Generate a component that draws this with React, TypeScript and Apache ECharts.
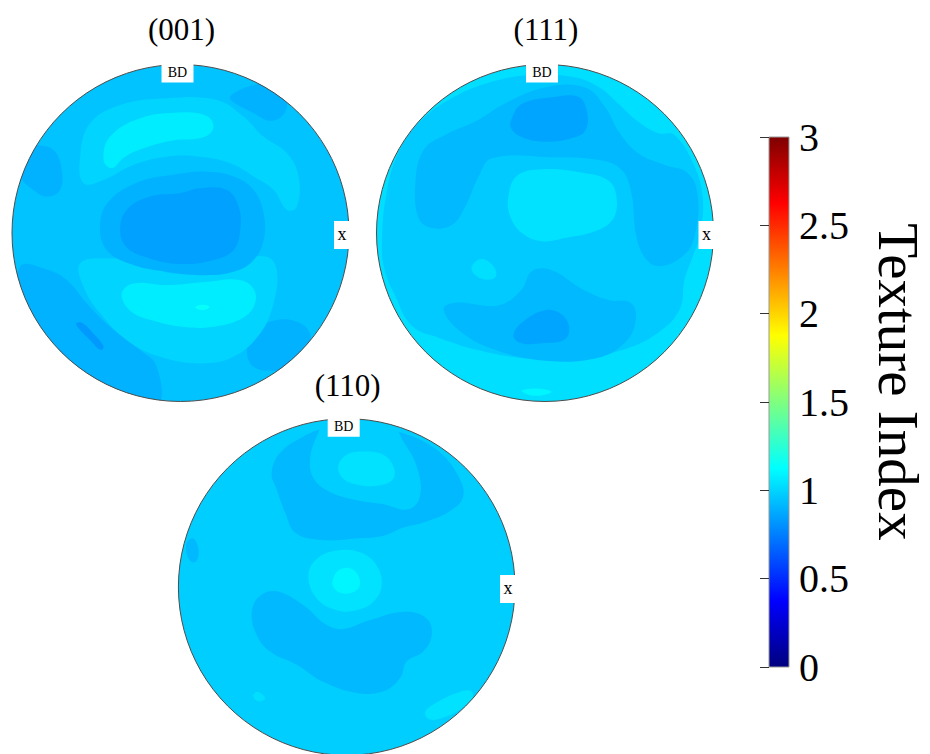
import React, { useEffect, useRef } from 'react';
import * as echarts from 'echarts';

type Pt = [number, number];
interface Contour {
  level: number;
  pts: Pt[];
}

const FONT = '"Liberation Serif", "Times New Roman", serif';

// jet colour map, 0 -> 3
const jetColors = ['#00007F', '#0000FF', '#007FFF', '#00FFFF', '#7FFF7F', '#FFFF00', '#FF7F00', '#FF0000', '#7F0000'];
const indexMin = 0;
const indexMax = 3;
const indexStep = 0.5;

const figureTitles = ['(001)', '(111)', '(110)'];
const baseLevels = [0.95, 1.03, 0.98];

// contour regions in pole-figure coordinates (unit circle, y up)
const pf001: Contour[] = [
  { level: 0.9, pts: [[-0.873, 0.533], [-0.754, 0.493], [-0.705, 0.374], [-0.715, 0.255], [-0.794, 0.216], [-0.873, 0.255], [-0.952, 0.335], [-0.992, 0.493], [-0.933, 0.592]] },
  { level: 0.9, pts: [[0.295, 0.81], [0.434, 0.711], [0.552, 0.667], [0.632, 0.75], [0.572, 0.889]] },
  { level: 0.9, pts: [[-0.952, -0.2], [-0.794, -0.216], [-0.675, -0.279], [-0.556, -0.418], [-0.418, -0.556], [-0.24, -0.695], [-0.141, -0.794], [-0.141, -1.012], [-0.576, -0.893], [-0.952, -0.497]] },
  { level: 0.83, pts: [[-0.62, -0.541], [-0.586, -0.533], [-0.517, -0.596], [-0.457, -0.671], [-0.473, -0.695], [-0.536, -0.636]] },
  { level: 0.9, pts: [[0.394, -0.695], [0.434, -0.576], [0.552, -0.521], [0.671, -0.521], [0.76, -0.58], [0.77, -0.695], [0.711, -0.794], [0.572, -0.818], [0.434, -0.794]] },
  { level: 1.0, pts: [[-0.596, 0.453], [-0.537, 0.651], [-0.358, 0.76], [-0.081, 0.8], [0.216, 0.79], [0.374, 0.691], [0.493, 0.572], [0.632, 0.473], [0.701, 0.335], [0.691, 0.156], [0.632, 0.137], [0.552, 0.255], [0.434, 0.335], [0.295, 0.414], [0.117, 0.453], [-0.081, 0.453], [-0.279, 0.404], [-0.457, 0.315], [-0.576, 0.295]] },
  { level: 1.0, pts: [[-0.596, -0.18], [-0.438, -0.15], [-0.24, -0.18], [-0.042, -0.24], [0.156, -0.22], [0.354, -0.16], [0.513, -0.141], [0.572, -0.22], [0.552, -0.418], [0.473, -0.596], [0.315, -0.735], [0.117, -0.774], [-0.121, -0.735], [-0.319, -0.636], [-0.477, -0.477], [-0.576, -0.319]] },
  { level: 0.9, pts: [[-0.477, 0.057], [-0.418, 0.196], [-0.24, 0.305], [-0.042, 0.345], [0.156, 0.364], [0.315, 0.335], [0.434, 0.255], [0.493, 0.117], [0.493, -0.042], [0.434, -0.16], [0.315, -0.23], [0.117, -0.25], [-0.081, -0.23], [-0.279, -0.19], [-0.438, -0.101]] },
  { level: 0.85, pts: [[-0.358, 0.018], [-0.319, 0.137], [-0.18, 0.216], [-0.002, 0.236], [0.117, 0.265], [0.275, 0.255], [0.345, 0.156], [0.354, 0.018], [0.315, -0.101], [0.196, -0.16], [-0.002, -0.184], [-0.2, -0.145], [-0.319, -0.085]] },
  { level: 1.07, pts: [[-0.457, 0.434], [-0.418, 0.572], [-0.24, 0.681], [-0.002, 0.715], [0.156, 0.695], [0.196, 0.628], [0.137, 0.568], [-0.042, 0.549], [-0.2, 0.509], [-0.329, 0.453], [-0.408, 0.384]] },
  { level: 1.07, pts: [[-0.349, -0.358], [-0.279, -0.299], [-0.081, -0.309], [0.156, -0.289], [0.354, -0.279], [0.438, -0.339], [0.434, -0.438], [0.354, -0.513], [0.196, -0.556], [0.038, -0.56], [-0.16, -0.521], [-0.299, -0.461]] },
  { level: 1.14, pts: [[0.087, -0.442], [0.127, -0.426], [0.172, -0.438], [0.137, -0.457]] },
];

const pf111: Contour[] = [
  { level: 0.97, pts: [[-0.966, -0.02], [-0.947, 0.197], [-0.888, 0.434], [-0.769, 0.631], [-0.572, 0.789], [-0.316, 0.897], [-0.079, 0.937], [0.158, 0.927], [0.316, 0.868], [0.434, 0.769], [0.552, 0.661], [0.671, 0.592], [0.769, 0.582], [0.888, 0.394], [0.937, 0.197], [0.917, -0.02], [0.878, -0.138], [0.828, -0.276], [0.799, -0.454], [0.671, -0.592], [0.473, -0.69], [0.217, -0.74], [-0.079, -0.746], [-0.375, -0.7], [-0.631, -0.621], [-0.789, -0.552], [-0.888, -0.375], [-0.957, -0.197]] },
  { level: 0.92, pts: [[-0.769, 0.296], [-0.72, 0.493], [-0.592, 0.582], [-0.414, 0.661], [-0.237, 0.769], [0.0, 0.864], [0.237, 0.864], [0.355, 0.75], [0.444, 0.592], [0.552, 0.473], [0.71, 0.404], [0.848, 0.355], [0.907, 0.217], [0.888, -0.02], [0.828, -0.128], [0.69, -0.197], [0.602, -0.158], [0.542, -0.02], [0.513, 0.237], [0.454, 0.375], [0.316, 0.434], [0.039, 0.45], [-0.316, 0.444], [-0.394, 0.335], [-0.473, 0.158], [-0.552, 0.049], [-0.671, 0.03], [-0.75, 0.089]] },
  { level: 0.92, pts: [[-0.602, -0.454], [-0.533, -0.414], [-0.276, -0.43], [-0.138, -0.335], [-0.079, -0.227], [0.039, -0.221], [0.217, -0.331], [0.375, -0.398], [0.513, -0.418], [0.536, -0.533], [0.473, -0.651], [0.316, -0.74], [0.02, -0.759], [-0.276, -0.7], [-0.493, -0.592]] },
  { level: 0.86, pts: [[-0.197, 0.68], [-0.138, 0.765], [0.039, 0.805], [0.197, 0.809], [0.247, 0.73], [0.241, 0.611], [0.158, 0.562], [0.0, 0.542], [-0.138, 0.568], [-0.201, 0.621]] },
  { level: 0.86, pts: [[-0.187, -0.602], [-0.118, -0.517], [0.0, -0.458], [0.089, -0.477], [0.142, -0.552], [0.118, -0.631], [-0.02, -0.655], [-0.148, -0.651]] },
  { level: 1.04, pts: [[-0.217, 0.217], [-0.168, 0.339], [-0.02, 0.379], [0.217, 0.359], [0.375, 0.312], [0.424, 0.217], [0.404, 0.083], [0.296, 0.01], [0.118, -0.03], [-0.02, -0.049], [-0.138, 0.0], [-0.207, 0.099]] },
  { level: 1.03, pts: [[-0.434, -0.197], [-0.375, -0.154], [-0.306, -0.197], [-0.292, -0.26], [-0.355, -0.276], [-0.418, -0.247]] },
  { level: 1.1, pts: [[-0.138, -0.937], [-0.049, -0.923], [0.039, -0.943], [-0.059, -0.966]] },
];

const pf110: Contour[] = [
  { level: 0.92, pts: [[-0.446, 0.683], [-0.396, 0.802], [-0.257, 0.901], [-0.119, 0.95], [0.139, 0.95], [0.337, 0.921], [0.535, 0.822], [0.653, 0.683], [0.693, 0.545], [0.614, 0.455], [0.455, 0.386], [0.337, 0.356], [0.218, 0.307], [0.059, 0.291], [-0.158, 0.283], [-0.307, 0.327], [-0.366, 0.446], [-0.416, 0.584]] },
  { level: 0.98, pts: [[-0.218, 0.762], [-0.178, 0.901], [-0.099, 1.02], [0.238, 1.02], [0.337, 0.871], [0.416, 0.723], [0.436, 0.545], [0.366, 0.465], [0.218, 0.495], [0.02, 0.529], [-0.119, 0.58], [-0.198, 0.653]] },
  { level: 1.04, pts: [[-0.05, 0.723], [0.0, 0.792], [0.099, 0.812], [0.218, 0.792], [0.281, 0.713], [0.273, 0.644], [0.198, 0.61], [0.079, 0.61], [-0.02, 0.648]] },
  { level: 1.04, pts: [[-0.228, 0.069], [-0.178, 0.168], [-0.059, 0.218], [0.079, 0.208], [0.178, 0.129], [0.208, 0.01], [0.158, -0.089], [0.059, -0.139], [-0.059, -0.139], [-0.178, -0.069]] },
  { level: 1.1, pts: [[-0.083, 0.04], [-0.05, 0.099], [0.02, 0.113], [0.069, 0.069], [0.075, 0.0], [0.03, -0.034], [-0.04, -0.034], [-0.079, 0.0]] },
  { level: 0.92, pts: [[-0.564, -0.149], [-0.515, -0.053], [-0.416, -0.026], [-0.257, -0.109], [-0.119, -0.228], [-0.02, -0.251], [0.139, -0.198], [0.337, -0.149], [0.475, -0.188], [0.505, -0.287], [0.455, -0.386], [0.356, -0.446], [0.317, -0.545], [0.218, -0.624], [0.059, -0.634], [-0.139, -0.568], [-0.297, -0.465], [-0.455, -0.386], [-0.535, -0.287]] },
  { level: 0.92, pts: [[-0.95, 0.267], [-0.911, 0.291], [-0.881, 0.228], [-0.891, 0.158], [-0.921, 0.149], [-0.95, 0.198]] },
  { level: 1.03, pts: [[-0.554, -0.644], [-0.525, -0.628], [-0.485, -0.663], [-0.505, -0.683], [-0.545, -0.673]] },
  { level: 1.04, pts: [[0.465, -0.752], [0.515, -0.703], [0.653, -0.634], [0.733, -0.62], [0.749, -0.659], [0.673, -0.733], [0.574, -0.782], [0.495, -0.794]] },
];

const figureContours = [pf001, pf111, pf110];

// layout of the three pole figures (pixel centre and radius)
const figureLayout = [
  { cx: 180.5, cy: 233, r: 168.5 },
  { cx: 545, cy: 233, r: 168.5 },
  { cx: 346.7, cy: 588.3, r: 168.3 },
];

const makeRenderer = (contours: Contour[]) => (_params: any, api: any) => {
  const idx = api.value(1) as number;
  const c = api.coord([0, 0]);
  const e = api.coord([1, 0]);
  const r = e[0] - c[0];
  const fill = api.visual('color');
  if (idx === -1) {
    return { type: 'circle', z2: 0, shape: { cx: c[0], cy: c[1], r }, style: { fill } };
  }
  if (idx === -2) {
    const top = c[1] - r;
    const right = c[0] + r;
    return {
      type: 'group',
      z2: 200,
      children: [
        { type: 'circle', z2: 200, shape: { cx: c[0], cy: c[1], r }, style: { fill: 'none', stroke: '#4d4d4d', lineWidth: 1 } },
        { type: 'rect', z2: 201, shape: { x: c[0] - 19, y: top - 2, width: 32, height: 20 }, style: { fill: '#fff' } },
        {
          type: 'text', z2: 202, x: c[0] - 3, y: top + 8,
          style: { text: 'BD', font: `14px ${FONT}`, fill: '#000', align: 'center', verticalAlign: 'middle' },
        },
        { type: 'rect', z2: 201, shape: { x: right - 15, y: c[1] - 12, width: 16, height: 28 }, style: { fill: '#fff' } },
        {
          type: 'text', z2: 202, x: right - 7, y: c[1] + 1,
          style: { text: 'x', font: `18px ${FONT}`, fill: '#000', align: 'center', verticalAlign: 'middle' },
        },
      ],
    };
  }
  const points = contours[idx].pts.map((p) => api.coord(p));
  return {
    type: 'polygon',
    z2: idx + 1,
    shape: { points, smooth: 0.4 },
    style: { fill },
    clipPath: { type: 'circle', shape: { cx: c[0], cy: c[1], r } },
  };
};

const App: React.FC = () => {
  const chartRef = useRef<HTMLDivElement>(null);

  useEffect(() => {
    if (!chartRef.current) return;
    const chart = echarts.init(chartRef.current, undefined, { renderer: 'svg' });

    const grids: any[] = figureLayout.map((f) => ({
      left: f.cx - f.r,
      top: f.cy - f.r,
      width: 2 * f.r,
      height: 2 * f.r,
    }));
    grids.push({ left: 769, top: 137, width: 20, height: 530 });

    const xAxes: any[] = figureLayout.map((_f, i) => ({ type: 'value', gridIndex: i, min: -1, max: 1, show: false }));
    xAxes.push({ type: 'value', gridIndex: 3, min: 0, max: 1, show: false });

    const yAxes: any[] = figureLayout.map((_f, i) => ({ type: 'value', gridIndex: i, min: -1, max: 1, show: false }));
    yAxes.push({
      type: 'value',
      gridIndex: 3,
      min: indexMin,
      max: indexMax,
      interval: indexStep,
      position: 'right',
      z: 10,
      axisLine: { show: false },
      splitLine: { show: false },
      axisTick: { show: true, inside: true, length: 9, lineStyle: { color: '#333', width: 1 } },
      axisLabel: { fontSize: 40, fontFamily: FONT, color: '#000', margin: 10 },
    });

    const figureSeries = figureContours.map((contours, i) => ({
      type: 'custom',
      xAxisIndex: i,
      yAxisIndex: i,
      silent: true,
      renderItem: makeRenderer(contours),
      data: [
        [baseLevels[i], -1],
        ...contours.map((ct, k) => [ct.level, k]),
        [baseLevels[i], -2],
      ],
    }));

    const barStops = jetColors
      .slice()
      .reverse()
      .map((color, i) => ({ offset: i / (jetColors.length - 1), color }));

    const option: any = {
      animation: false,
      backgroundColor: '#fff',
      grid: grids,
      xAxis: xAxes,
      yAxis: yAxes,
      visualMap: {
        type: 'continuous',
        show: false,
        min: indexMin,
        max: indexMax,
        dimension: 0,
        seriesIndex: [0, 1, 2],
        inRange: { color: jetColors },
      },
      graphic: [
        ...figureTitles.map((t, i) => ({
          type: 'text',
          x: figureLayout[i].cx + 1,
          y: figureLayout[i].cy - figureLayout[i].r - 35,
          style: { text: t, font: `31px ${FONT}`, fill: '#000', textAlign: 'center', textVerticalAlign: 'middle' },
        })),
        {
          type: 'text',
          x: 898,
          y: 382,
          rotation: -Math.PI / 2,
          style: { text: 'Texture Index', font: `57px ${FONT}`, fill: '#000', textAlign: 'center', textVerticalAlign: 'middle' },
        },
      ],
      series: [
        ...figureSeries,
        {
          type: 'custom',
          xAxisIndex: 3,
          yAxisIndex: 3,
          silent: true,
          data: [[0.5, indexMax]],
          renderItem: (params: any, api: any) => {
            const top = api.coord([0, indexMax]);
            const bottom = api.coord([0, indexMin]);
            const cs = params.coordSys;
            return {
              type: 'rect',
              shape: { x: cs.x, y: top[1], width: cs.width, height: bottom[1] - top[1] },
              style: {
                fill: new echarts.graphic.LinearGradient(0, 0, 0, 1, barStops),
                stroke: '#999',
                lineWidth: 1,
              },
            };
          },
        },
      ],
    };

    chart.setOption(option);

    const handleResize = () => chart.resize();
    window.addEventListener('resize', handleResize);
    return () => {
      window.removeEventListener('resize', handleResize);
      chart.dispose();
    };
  }, []);

  return (
    <div
      ref={chartRef}
      style={{ position: 'absolute', left: 0, top: 0, width: 930, height: 754, background: '#fff' }}
    />
  );
};

export default App;
